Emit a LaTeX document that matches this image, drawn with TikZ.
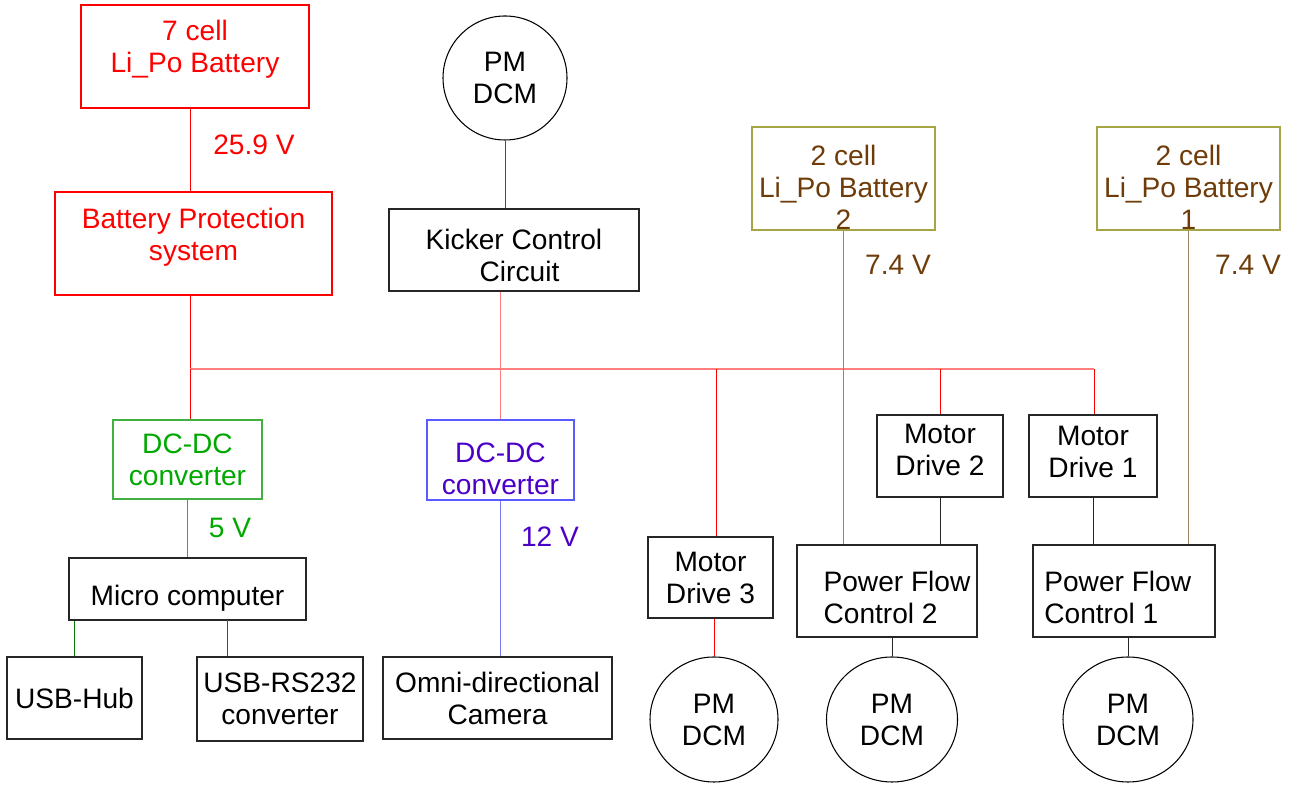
\documentclass[tikz,border=0pt]{standalone}
\usepackage{fontspec}
\setmainfont{Liberation Sans}
\usepackage{xcolor}
\usepackage{tikz}
\usetikzlibrary{shapes.geometric}
\definecolor{pwred}{HTML}{FF0000}
\definecolor{pwbus}{HTML}{FF7F7F}
\definecolor{lvgreen}{HTML}{00A800}
\definecolor{lvgreenbox}{HTML}{40B040}
\definecolor{lvgreenln}{HTML}{30B030}
\definecolor{usbgreen}{HTML}{007A00}
\definecolor{camtext}{HTML}{4B00C8}
\definecolor{cambox}{HTML}{5A5AFF}
\definecolor{camln}{HTML}{7C7CF0}
\definecolor{cellbox}{HTML}{A5A545}
\definecolor{celltext}{HTML}{6E3C0A}
\definecolor{cellln}{HTML}{A08264}
% lines of a box label, moved up or down inside the box
\newcommand\liftlines[3][c]{\raisebox{#2}[\height][\depth]{%
  \begin{tabular}{@{}#1@{}}#3\end{tabular}}}
\tikzset{
  dtext/.style={font=\fontsize{16}{18.2}\selectfont,align=center},
  blkbox/.style={rectangle,draw=black!85,line width=.6pt,dtext,inner sep=1pt},
  redbox/.style={blkbox,draw=pwred,text=pwred},
  grnbox/.style={blkbox,draw=lvgreenbox,text=lvgreen},
  camdc/.style={blkbox,draw=cambox,text=camtext},
  cellpack/.style={blkbox,draw=cellbox,text=celltext},
  motor/.style={ellipse,draw=black,line width=.6pt,dtext,inner sep=0pt},
  vlabel/.style={dtext},
  wire/.style={line width=.55pt}
}

\begin{document}
\begin{tikzpicture}[x=1cm,y=1cm]
  \useasboundingbox (0,0) rectangle (26.04,15.74);

  % main battery chain
  \node[redbox,minimum width=4.56cm,minimum height=2.06cm] (batt7) at (3.90,14.61)
    {\liftlines{3.4pt}{7 cell\\Li\_Po Battery}};
  \node[vlabel,text=pwred] (v259) at (5.08,12.84) {25.9 V};
  \node[redbox,minimum width=5.54cm,minimum height=2.06cm] (bps) at (3.87,10.87)
    {\liftlines{2.8pt}{Battery Protection\\system}};

  \coordinate (tapA) at (3.80,8.36);
  \coordinate (tap3) at (14.32,8.36);
  \coordinate (tapR) at (21.88,8.36);

  % left branch: 5 V
  \node[grnbox,minimum width=2.98cm,minimum height=1.58cm] (dcg) at (3.75,6.55)
    {DC-DC\\converter};
  \node[vlabel,text=lvgreen] (v5) at (4.60,5.18) {5 V};
  \node[blkbox,minimum width=4.74cm,minimum height=1.24cm] (micro) at (3.75,3.96)
    {\liftlines{-5.7pt}{Micro computer}};
  \node[blkbox,minimum width=2.70cm,minimum height=1.64cm] (usbhub) at (1.49,1.78)
    {USB-Hub};
  \node[blkbox,minimum width=3.32cm,minimum height=1.68cm] (usbrs) at (5.60,1.76)
    {\liftlines{-1.7pt}{USB-RS232\\converter}};
  \coordinate (rsTap) at (4.54,3.34);

  % kicker and camera
  \node[motor,minimum size=2.48cm] (pmK) at (10.10,14.18) {PM\\DCM};
  \node[blkbox,minimum width=5.00cm,minimum height=1.64cm] (kicker) at (10.28,10.74)
    {\liftlines{-5pt}{Kicker Control\\\hspace*{.22cm}Circuit}};
  \node[camdc,minimum width=2.94cm,minimum height=1.60cm] (dcb) at (10.01,6.54)
    {\liftlines{-7pt}{DC-DC\\converter}};
  \node[vlabel,text=camtext] (v12) at (11.00,5.00) {12 V};
  \node[blkbox,minimum width=4.58cm,minimum height=1.64cm] (camera) at (9.95,1.78)
    {Omni-directional\\Camera};

  % drives
  \node[blkbox,minimum width=2.50cm,minimum height=1.62cm] (md3) at (14.21,4.19)
    {Motor\\Drive 3};
  \node[motor,minimum width=2.56cm,minimum height=2.50cm] (pm3) at (14.28,1.35) {PM\\DCM};

  \node[cellpack,minimum width=3.66cm,minimum height=2.06cm] (batt2) at (16.87,12.17)
    {\liftlines{-7.4pt}{2 cell\\Li\_Po Battery\\2}};
  \node[vlabel,text=celltext] (v74b) at (17.96,10.44) {7.4 V};
  \node[blkbox,minimum width=2.52cm,minimum height=1.64cm] (md2) at (18.80,6.62)
    {\liftlines{1.5pt}{Motor\\Drive 2}};
  \node[blkbox,minimum width=3.60cm,minimum height=1.84cm] (pfc2) at (17.74,3.92)
    {\liftlines[l]{-5.5pt}{\hspace*{.4cm}Power Flow\\\hspace*{.4cm}Control 2}};
  \node[motor,minimum width=2.62cm,minimum height=2.50cm] (pm2) at (17.84,1.35) {PM\\DCM};

  \node[cellpack,minimum width=3.66cm,minimum height=2.06cm] (batt1) at (23.77,12.17)
    {\liftlines{-7.4pt}{2 cell\\Li\_Po Battery\\1}};
  \node[vlabel,text=celltext] (v74a) at (24.96,10.44) {7.4 V};
  \node[blkbox,minimum width=2.56cm,minimum height=1.64cm] (md1) at (21.86,6.62)
    {\liftlines{0.4pt}{Motor\\Drive 1}};
  \node[blkbox,minimum width=3.64cm,minimum height=1.84cm] (pfc1) at (22.48,3.92)
    {\liftlines[l]{-5.5pt}{Power Flow\hspace*{.25cm}\\Control 1}};
  \node[motor,minimum width=2.60cm,minimum height=2.50cm] (pm1) at (22.56,1.35) {PM\\DCM};

  % wiring
  \draw[wire,pwred] (batt7.south -| tapA) -- (bps.north -| tapA);
  \draw[wire,pwred] (bps.south -| tapA) -- (tapA);
  \draw[wire,pwbus,line width=.7pt] (tapA) -- (tapR);
  \draw[wire,pwred] (tapA) -- (dcg.north -| tapA);
  \draw[wire,lvgreenln] (dcg.south) -- (micro.north);
  \draw[wire,usbgreen] (micro.south -| usbhub.north) -- (usbhub.north);
  \draw[wire,usbgreen] (rsTap) -- (rsTap |- usbrs.north);

  \draw[wire,pwred] (pmK.south) -- (pmK.south |- kicker.north);
  \draw[wire,pwbus,line width=.7pt] (dcb.north |- kicker.south) -- (dcb.north);
  \draw[wire,camln,line width=.7pt] (dcb.south) -- (dcb.south |- camera.north);

  \draw[wire,pwred] (tap3) -- (tap3 |- md3.north);
  \draw[wire,pwred] (pm3.north |- md3.south) -- (pm3.north);
  \draw[wire,pwred] (md2.north |- tapA) -- (md2.north);
  \draw[wire,pwred] (tapR) -- (tapR |- md1.north);
  \draw[wire,black!85] (md2.south) -- (md2.south |- pfc2.north);
  \draw[wire,black!85] (md1.south) -- (md1.south |- pfc1.north);
  \draw[wire,black!85] (pm2.north |- pfc2.south) -- (pm2.north);
  \draw[wire,black!85] (pm1.north |- pfc1.south) -- (pm1.north);

  \draw[wire,cellln,line width=.7pt] (batt2.south) -- (batt2.south |- pfc2.north);
  \draw[wire,cellln,line width=.7pt] (batt1.south) -- (batt1.south |- pfc1.north);
\end{tikzpicture}
\end{document}
